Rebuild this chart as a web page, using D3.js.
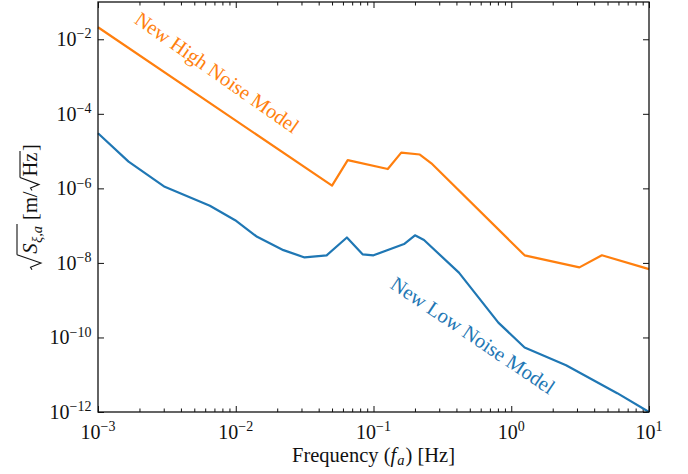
<!DOCTYPE html>
<html><head><meta charset="utf-8">
<script src="https://cdn.jsdelivr.net/npm/d3@7"></script>
<style>
body{margin:0;background:#fff}
svg{display:block}
text{font-family:"Liberation Serif","Times New Roman",serif;fill:#111}
</style>
</head><body>
<svg id="chart" width="688" height="474"></svg>
<script>
// ---- data ----
const lowFreq  = [0.001, 0.001667, 0.00305, 0.00649, 0.0099, 0.01429, 0.0222, 0.0316, 0.0457, 0.0641, 0.0833, 0.1, 0.1667, 0.2, 0.2326, 0.417, 0.806, 1.25, 2.5, 5.88, 10];
const lowValue = [3.0e-5, 5.2e-6, 1.1e-6, 3.4e-7, 1.4e-7, 5.0e-8, 2.2e-8, 1.4e-8, 1.6e-8, 4.8e-8, 1.7e-8, 1.6e-8, 3.2e-8, 5.5e-8, 4.1e-8, 5.5e-9, 2.5e-10, 5.4e-11, 1.8e-11, 3.2e-12, 1.0e-12];
const highFreq  = [0.001, 0.05, 0.065, 0.127, 0.159, 0.217, 0.263, 1.25, 3.125, 4.55, 10];
const highValue = [2.1e-2, 1.18e-6, 5.7e-6, 3.3e-6, 9.1e-6, 8.1e-6, 4.7e-6, 1.6e-8, 7.6e-9, 1.6e-8, 6.8e-9];
const xTickExponents = [-3, -2, -1, 0, 1];
const yTickExponents = [-12, -10, -8, -6, -4, -2];
const xDomain = [1e-3, 1e1];
const yDomain = [1e-12, 1e-1];
const highLabel = {text: "New High Noise Model", f: 0.00684, v: 9.1e-4, angle: 35, length: 195};
const lowLabel  = {text: "New Low Noise Model",  f: 0.493,  v: 8.0e-11, angle: 34, length: 193};

const colors = {low: "#1f77b4", high: "#ff7f0e"};
const W = 688, H = 474;
const m = {left: 98, right: 39, top: 2, bottom: 62};
const iw = W - m.left - m.right, ih = H - m.top - m.bottom;

const svg = d3.select("#chart");
const g = svg.append("g").attr("transform", `translate(${m.left},${m.top})`);

const x = d3.scaleLog().domain(xDomain).range([0, iw]);
const y = d3.scaleLog().domain(yDomain).range([ih, 0]);

// minor ticks
const minorX = [];
for (let e = -3; e < 1; e++) for (let k = 2; k <= 9; k++) minorX.push(k * Math.pow(10, e));
const majorX = xTickExponents.map(e => Math.pow(10, e));
const majorY = yTickExponents.map(e => Math.pow(10, e));

function styleAxis(sel) {
  sel.select(".domain").remove();
  sel.selectAll(".tick line").attr("stroke", "#111").attr("stroke-width", 1);
  sel.selectAll(".tick text").remove();
}
g.append("g").attr("transform", `translate(0,${ih})`)
  .call(d3.axisBottom(x).tickValues(majorX).tickSize(-6).tickSizeOuter(0)).call(styleAxis);
g.append("g").attr("transform", `translate(0,${ih})`)
  .call(d3.axisBottom(x).tickValues(minorX).tickSize(-3.5).tickSizeOuter(0)).call(styleAxis);
g.append("g")
  .call(d3.axisTop(x).tickValues(majorX).tickSize(-6).tickSizeOuter(0)).call(styleAxis);
g.append("g")
  .call(d3.axisTop(x).tickValues(minorX).tickSize(-3.5).tickSizeOuter(0)).call(styleAxis);
g.append("g")
  .call(d3.axisLeft(y).tickValues(majorY).tickSize(-6).tickSizeOuter(0)).call(styleAxis);
g.append("g").attr("transform", `translate(${iw},0)`)
  .call(d3.axisRight(y).tickValues(majorY).tickSize(-6).tickSizeOuter(0)).call(styleAxis);

// lines
const line = d3.line().x(d => x(d[0])).y(d => y(d[1]));
g.append("path").datum(lowFreq.map((f, i) => [f, lowValue[i]]))
  .attr("d", line).attr("fill", "none").attr("stroke", colors.low).attr("stroke-width", 2.2)
  .attr("stroke-linejoin", "round");
g.append("path").datum(highFreq.map((f, i) => [f, highValue[i]]))
  .attr("d", line).attr("fill", "none").attr("stroke", colors.high).attr("stroke-width", 2.2)
  .attr("stroke-linejoin", "round");

// frame
g.append("rect").attr("x", 0).attr("y", 0).attr("width", iw).attr("height", ih)
  .attr("fill", "none").attr("stroke", "#111").attr("stroke-width", 1.3);

// tick labels
function powerLabel(sel, e) {
  sel.append("tspan").text("10");
  sel.append("tspan").attr("font-size", 14).attr("dy", -7.5).text(e < 0 ? "\u2212" + Math.abs(e) : String(e));
}
xTickExponents.forEach(e => {
  g.append("text").attr("x", x(Math.pow(10, e))).attr("y", ih + 26.5)
    .attr("text-anchor", "middle").attr("font-size", 20).call(powerLabel, e);
});
yTickExponents.forEach(e => {
  g.append("text").attr("x", -6.5).attr("y", y(Math.pow(10, e)) + 6.7)
    .attr("text-anchor", "end").attr("font-size", 20).call(powerLabel, e);
});

// x axis label
const xl = g.append("text").attr("x", iw / 2).attr("y", ih + 49.5)
  .attr("text-anchor", "middle").attr("font-size", 20.5);
xl.append("tspan").text("Frequency (");
xl.append("tspan").attr("font-style", "italic").text("f");
xl.append("tspan").attr("font-style", "italic").attr("font-size", 14.5).attr("dy", 3.5).attr("dx", 1).text("a");
xl.append("tspan").attr("dy", -3.5).attr("dx", 1).text(") [Hz]");

// y axis label (built left-to-right, then rotated)
const yl = svg.append("g");
let cx = 0;
function piece(txt, opts = {}) {
  const t = yl.append("text").attr("x", cx).attr("y", opts.dy || 0)
    .attr("font-size", opts.size || 20.5).attr("font-style", opts.italic ? "italic" : "normal").text(txt);
  const w = t.node().getComputedTextLength();
  cx += w + (opts.after || 0);
  return w;
}
function radical(w, top, bottom) {
  const x0 = cx;
  yl.append("path")
    .attr("d", `M${x0},${-5} L${x0 + 2.5},${-6.5} L${x0 + w * 0.45},${bottom} L${x0 + w},${top}`)
    .attr("fill", "none").attr("stroke", "#111").attr("stroke-width", 1.1).attr("stroke-linejoin", "miter");
  cx += w;
  return x0 + w;
}
let r1 = radical(15, -20, 4);
cx += 1;
piece("S", {italic: true, after: 0.5});
piece("\u03BE,a", {italic: true, size: 14.5, dy: 4.5, after: 2});
yl.append("line").attr("x1", r1).attr("x2", cx).attr("y1", -20).attr("y2", -20)
  .attr("stroke", "#111").attr("stroke-width", 1.1);
cx += 4;
piece("[m/", {after: 1});
let r2 = radical(13, -17, 2);
cx += 1;
piece("Hz", {after: 1.5});
yl.append("line").attr("x1", r2).attr("x2", cx).attr("y1", -17).attr("y2", -17)
  .attr("stroke", "#111").attr("stroke-width", 1.1);
piece("]");
const total = cx;
yl.attr("transform", `translate(37,${m.top + ih / 2 + total / 2}) rotate(-90)`);

// in-plot annotations
function annotate(lbl, color) {
  const px = x(lbl.f), py = y(lbl.v);
  const t = g.append("text").attr("text-anchor", "middle").attr("font-size", 20)
    .attr("fill", color).style("fill", color).text(lbl.text)
    .attr("transform", `translate(${px},${py}) rotate(${lbl.angle})`);
  const L = t.node().getComputedTextLength();
  t.attr("font-size", 20 * lbl.length / L);
}
annotate(highLabel, colors.high);
annotate(lowLabel, colors.low);
</script>
</body></html>
